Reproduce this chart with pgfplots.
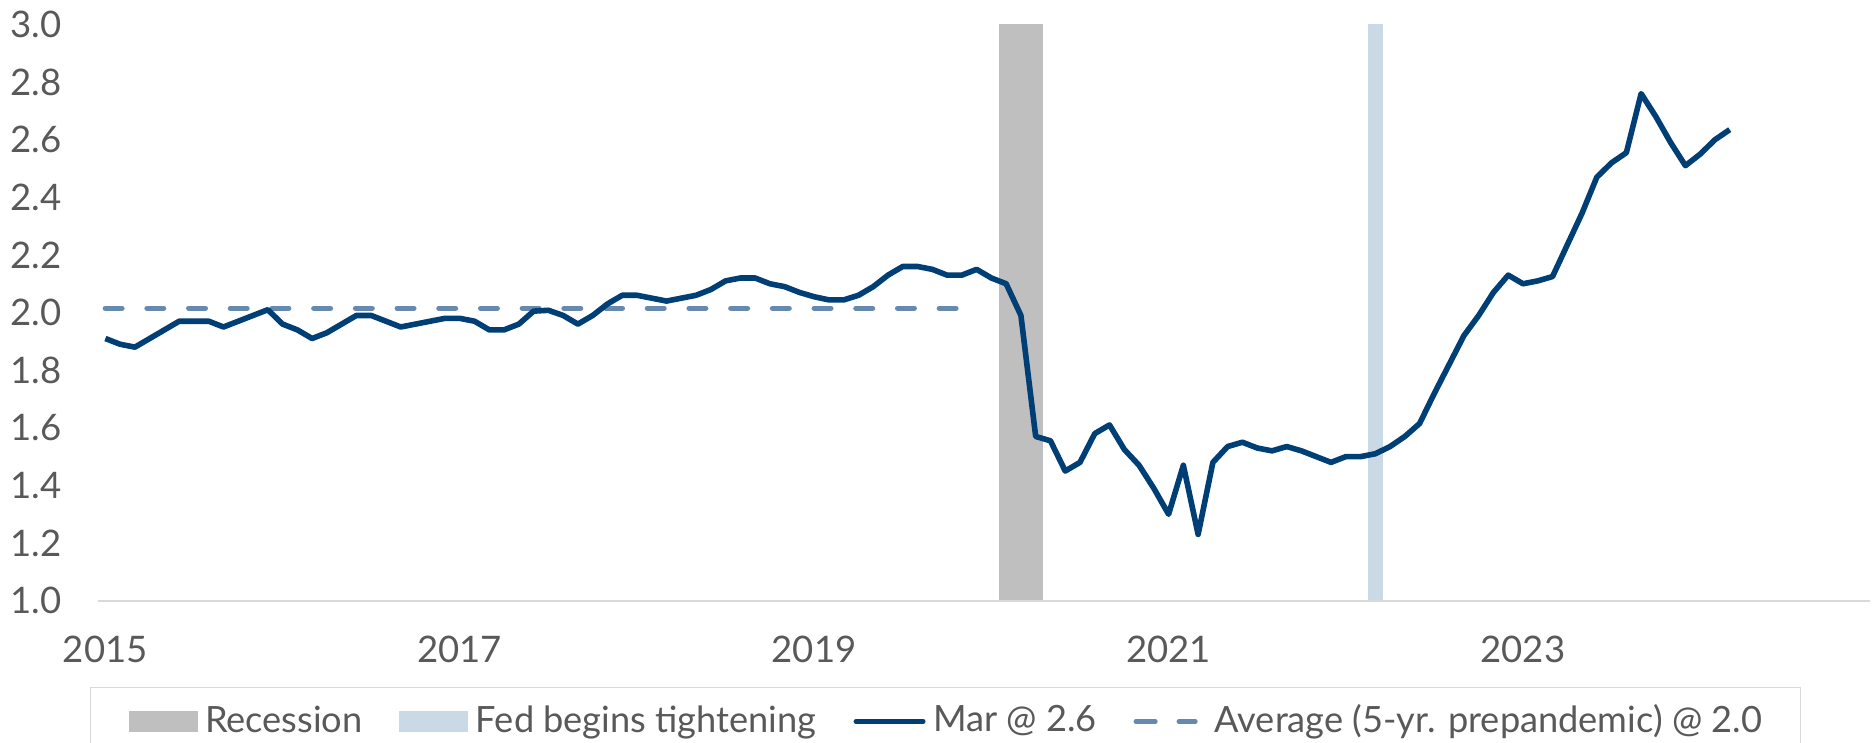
\documentclass[border=0pt]{standalone}
\usepackage{fontspec}
\setmainfont{Lato}
\usepackage{pgfplots}
\pgfplotsset{compat=1.18}
\usetikzlibrary{calc}
\definecolor{navy}{HTML}{003F75}
\definecolor{avgblue}{HTML}{6589AF}
\definecolor{recgray}{HTML}{BFBFBF}
\definecolor{fedblue}{HTML}{C9D9E5}
\definecolor{axgray}{HTML}{D9D9D9}
\definecolor{txtgray}{HTML}{595959}
\pgfplotstableread{
i v
0 1.91
1 1.89
2 1.88
3 1.91
4 1.94
5 1.97
6 1.97
7 1.97
8 1.95
9 1.97
10 1.99
11 2.01
12 1.96
13 1.94
14 1.91
15 1.93
16 1.96
17 1.99
18 1.99
19 1.97
20 1.95
21 1.96
22 1.97
23 1.98
24 1.98
25 1.97
26 1.94
27 1.94
28 1.96
29 2.005
30 2.008
31 1.99
32 1.96
33 1.99
34 2.03
35 2.06
36 2.06
37 2.05
38 2.04
39 2.05
40 2.06
41 2.08
42 2.11
43 2.12
44 2.12
45 2.10
46 2.09
47 2.07
48 2.055
49 2.044
50 2.044
51 2.06
52 2.09
53 2.13
54 2.16
55 2.16
56 2.15
57 2.13
58 2.13
59 2.15
60 2.12
61 2.10
62 1.99
63 1.57
64 1.555
65 1.45
66 1.48
67 1.58
68 1.61
69 1.525
70 1.47
71 1.39
72 1.30
73 1.47
74 1.23
75 1.48
76 1.535
77 1.55
78 1.53
79 1.52
80 1.535
81 1.52
82 1.50
83 1.48
84 1.50
85 1.50
86 1.51
87 1.535
88 1.57
89 1.615
90 1.72
91 1.82
92 1.92
93 1.99
94 2.07
95 2.13
96 2.10
97 2.11
98 2.125
99 2.235
100 2.345
101 2.47
102 2.52
103 2.555
104 2.76
105 2.68
106 2.59
107 2.51
108 2.55
109 2.60
110 2.635
}\pcedata
\pgfplotstableread{
i v
0 2.015
59 2.015
}\avgdata
\begin{document}
\begin{tikzpicture}
\begin{axis}[
  scale only axis,
  width=177.2mm, height=57.62mm,
  xmin=-0.5, xmax=119.5,
  ymin=1, ymax=3,
  axis line style={draw=none},
  axis x line*=bottom,
  axis y line*=left,
  major tick length=0pt,
  tick style={draw=none},
  xtick={0,24,48,72,96},
  xticklabels={2015,2017,2019,2021,2023},
  ytick={1,1.2,...,3.01},
  /pgf/number format/fixed,
  /pgf/number format/fixed zerofill,
  /pgf/number format/precision=1,
  /pgf/number format/assume math mode=true,
  tick label style={font=\fontsize{10.4pt}{12pt}\selectfont, text=txtgray, inner sep=0pt},
  xticklabel style={anchor=north, yshift=-3.43mm},
  yticklabel style={anchor=east, xshift=-3.6mm},
  clip=false,
  legend columns=4,
  legend cell align=left,
  legend style={
    at={(-0.0045,-0.1503)}, anchor=north west,
    draw=axgray, line width=0.1mm,
    inner xsep=3.8mm, inner ysep=1.7mm,
    font=\fontsize{10.3pt}{12pt}\selectfont, text=txtgray,
    nodes={inner sep=0pt},
    /tikz/every odd column/.append style={column sep=0.75mm},
    /tikz/every even column/.append style={column sep=3.7mm},
  },
]
% bands
\addplot[fill=recgray, draw=none, forget plot] coordinates {(60.5,1) (60.5,3) (63.5,3) (63.5,1)} -- cycle;
\addplot[fill=fedblue, draw=none, forget plot] coordinates {(85.5,1) (85.5,3) (86.5,3) (86.5,1)} -- cycle;
% x axis line
\draw[axgray, line width=0.2mm] (rel axis cs:0,0) -- (rel axis cs:1,0);
% average
\addplot[avgblue, line width=0.55mm, line cap=round, dash pattern=on 1.65mm off 2.52mm, forget plot] table[x=i,y=v] {\avgdata};
% main line
\addplot[navy, line width=0.56mm, line join=round, forget plot] table[x=i,y=v] {\pcedata};
% legend
\addlegendimage{draw=none, legend image code/.code={\fill[recgray, draw=none] (0mm,-1.08mm) rectangle (6.9mm,1.08mm);}}
\addlegendentry{Recession}
\addlegendimage{draw=none, legend image code/.code={\fill[fedblue, draw=none] (0mm,-1.08mm) rectangle (6.9mm,1.08mm);}}
\addlegendentry{Fed begins tightening}
\addlegendimage{draw=none, legend image code/.code={\draw[navy, line width=0.5mm, line cap=round] (0.25mm,0mm) -- (6.95mm,0mm); \path[draw=none] (0,0) -- (7.2mm,0);}}
\addlegendentry{Mar @ 2.6}
\addlegendimage{draw=none, legend image code/.code={\draw[avgblue, line width=0.42mm, line cap=round, solid] (0.21mm,0mm) -- (2.19mm,0mm); \draw[avgblue, line width=0.42mm, line cap=round, solid] (4.51mm,0mm) -- (6.19mm,0mm); \path[draw=none] (0,0) -- (7.35mm,0);}}
\addlegendentry{Average (5-yr. prepandemic) @ 2.0}
\end{axis}
\pgfresetboundingbox
\path[use as bounding box] ($(current axis.south west)+(-9.8mm,-14.23mm)$) rectangle ($(current axis.north east)+(0.5mm,2.45mm)$);
\end{tikzpicture}
\end{document}
